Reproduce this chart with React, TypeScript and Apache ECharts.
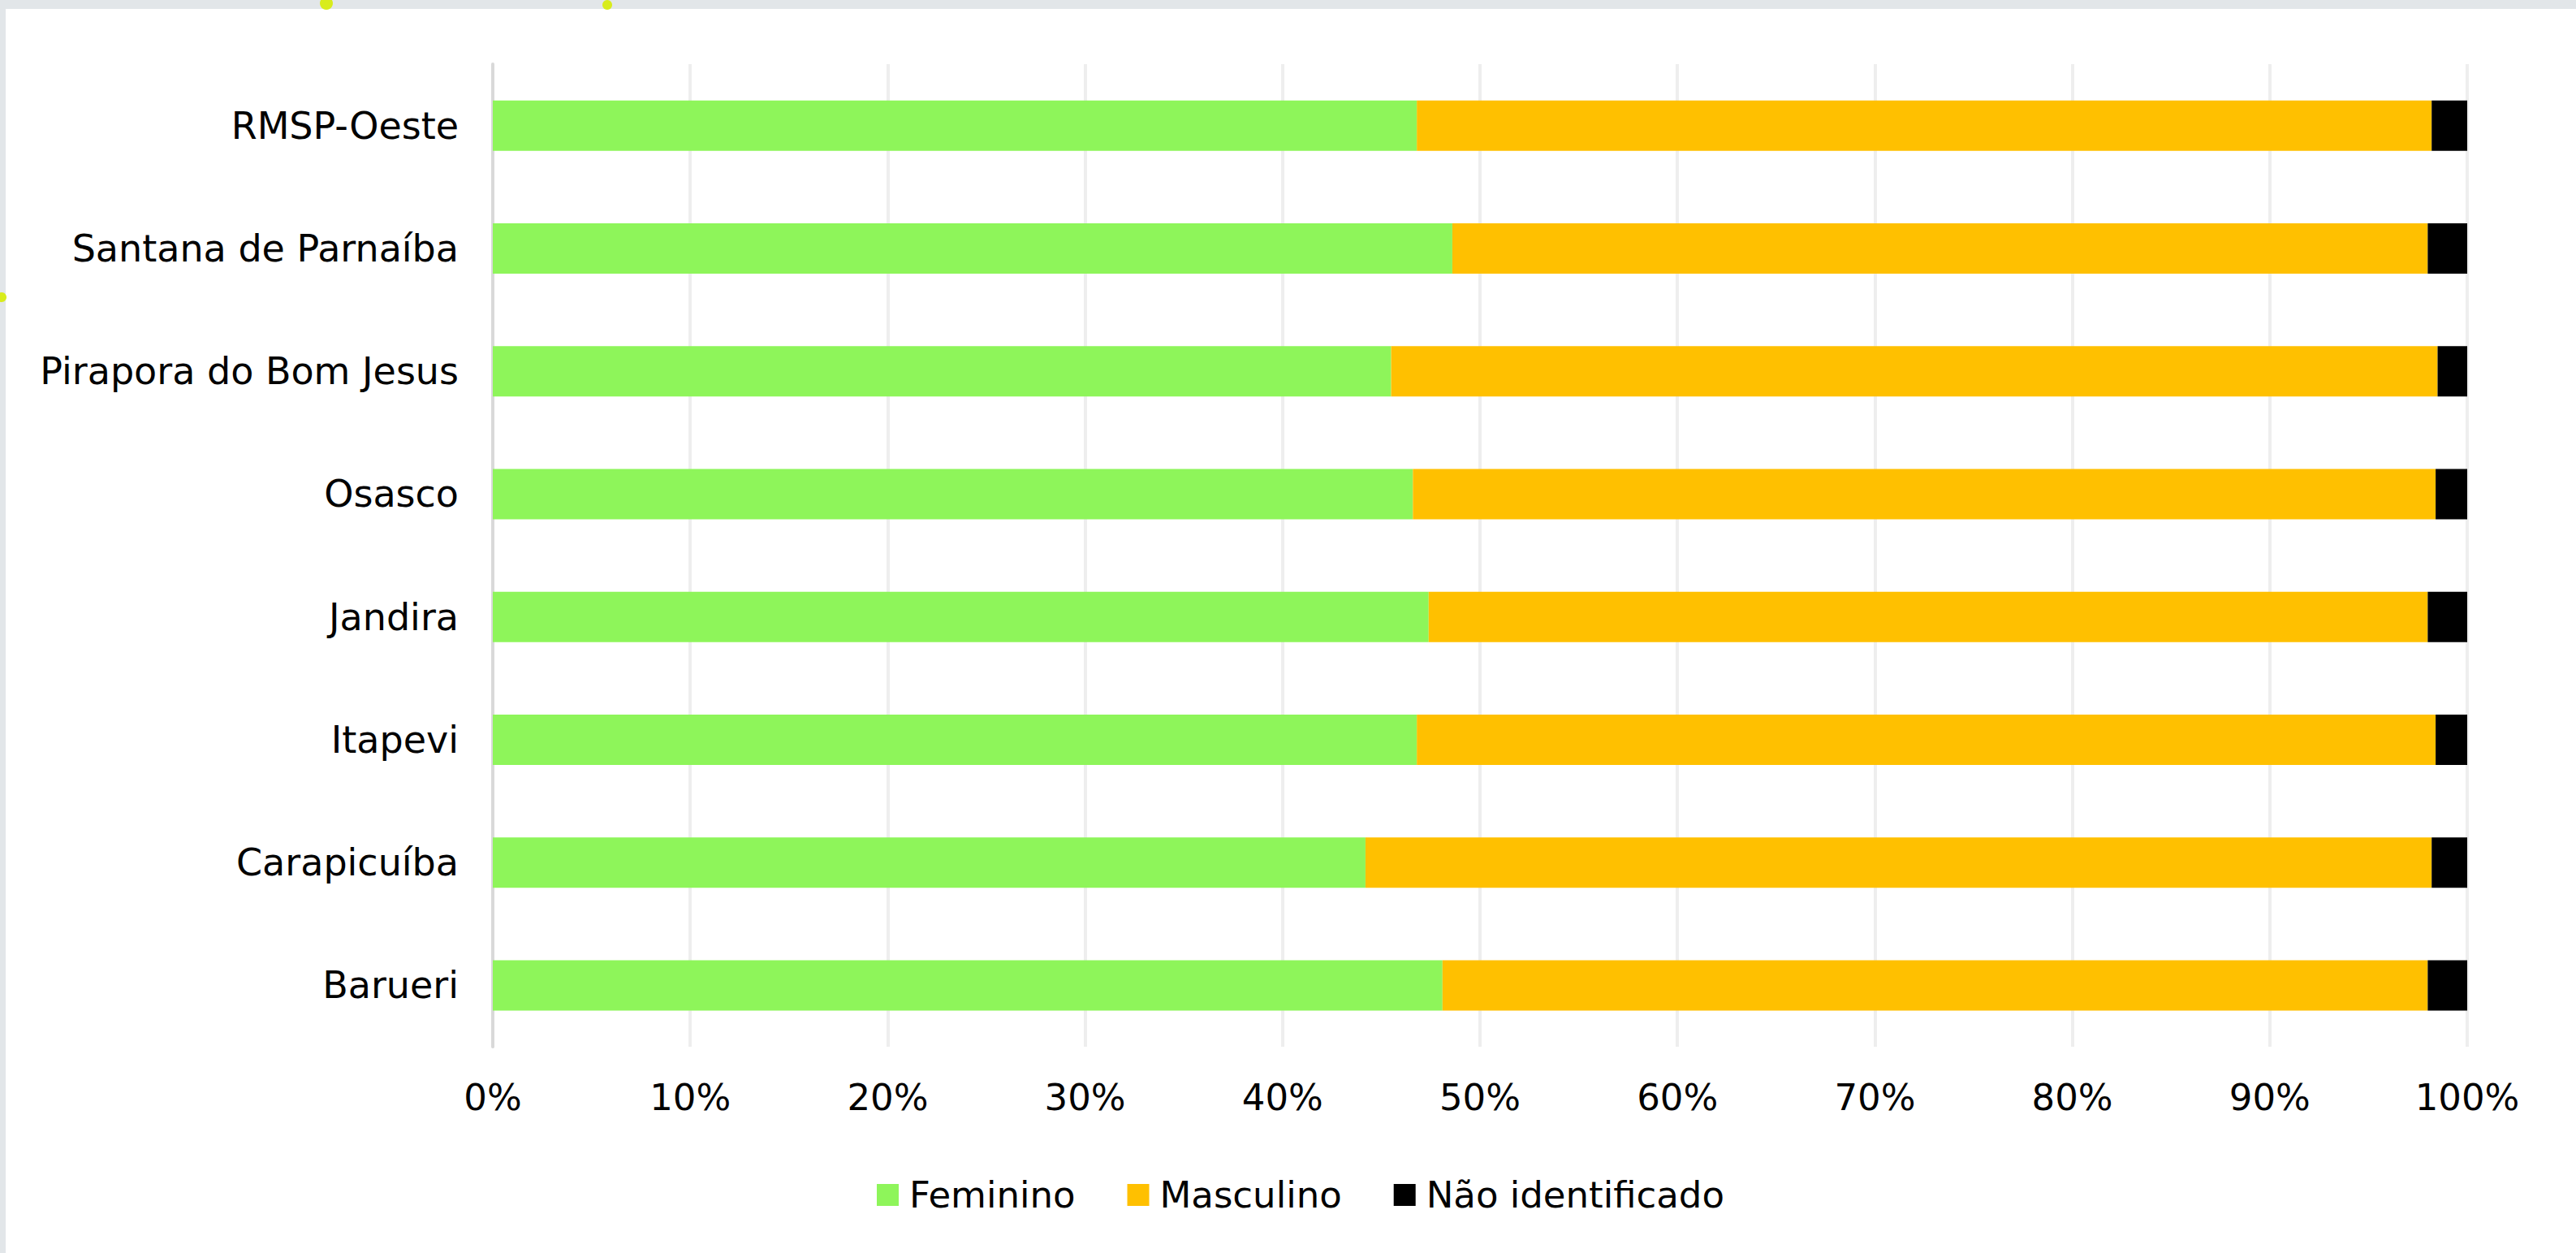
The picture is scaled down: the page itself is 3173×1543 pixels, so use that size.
import React, { useEffect, useRef } from "react";
import * as echarts from "echarts";

const categories = [
  "RMSP-Oeste",
  "Santana de Parnaíba",
  "Pirapora do Bom Jesus",
  "Osasco",
  "Jandira",
  "Itapevi",
  "Carapicuíba",
  "Barueri",
];
const feminino = [46.8, 48.6, 45.5, 46.6, 47.4, 46.8, 44.2, 48.1];
const masculino = [51.4, 49.4, 53.0, 51.8, 50.6, 51.6, 54.0, 49.9];
const naoIdentificado = [1.8, 2.0, 1.5, 1.6, 2.0, 1.6, 1.8, 2.0];
const seriesNames = ["Feminino", "Masculino", "Não identificado"];
const seriesColors = ["#8ef55a", "#ffc000", "#000000"];

const FONT = "'DejaVu Sans', Verdana, sans-serif";

export default function App() {
  const ref = useRef<HTMLDivElement>(null);
  useEffect(() => {
    document.body.style.margin = "0";
    if (!ref.current) return;
    const chart = echarts.init(ref.current, null, { renderer: "svg" });
    const data = [feminino, masculino, naoIdentificado];
    chart.setOption({
      animation: false,
      backgroundColor: "#ffffff",
      textStyle: { fontFamily: FONT },
      grid: { left: 607, right: 134, top: 79, bottom: 254, containLabel: false },
      legend: {
        left: 1075,
        top: 1444,
        itemWidth: 27,
        itemHeight: 27,
        itemGap: 64,
        icon: "rect",
        textStyle: { fontFamily: FONT, fontSize: 45, color: "#000000", padding: [0, 0, 0, 8] },
        data: seriesNames,
      },
      xAxis: {
        type: "value",
        min: 0,
        max: 100,
        interval: 10,
        axisLine: { show: false },
        axisTick: { show: false },
        splitLine: { show: true, lineStyle: { color: "#eeeeee", width: 4 } },
        axisLabel: {
          formatter: "{value}%",
          fontFamily: FONT,
          fontSize: 45,
          color: "#000000",
          margin: 40,
        },
      },
      yAxis: {
        type: "category",
        inverse: true,
        data: categories,
        axisLine: { show: true, lineStyle: { color: "#d9d9d9", width: 4 } },
        axisTick: { show: false },
        axisLabel: {
          fontFamily: FONT,
          fontSize: 46,
          color: "#000000",
          margin: 42,
        },
      },
      series: seriesNames.map((name, i) => ({
        name,
        type: "bar",
        stack: "total",
        barWidth: 62,
        itemStyle: { color: seriesColors[i] },
        data: data[i],
      })),
      graphic: [
        { type: "rect", shape: { x: 0, y: 0, width: 3173, height: 11 }, style: { fill: "#e2e6e9" }, silent: true },
        { type: "rect", shape: { x: 0, y: 0, width: 7, height: 1543 }, style: { fill: "#e2e6e9" }, silent: true },
        { type: "circle", shape: { cx: 402, cy: 4, r: 8 }, style: { fill: "#d8ec1c" }, silent: true },
        { type: "circle", shape: { cx: 748, cy: 6, r: 6 }, style: { fill: "#d8ec1c" }, silent: true },
        { type: "circle", shape: { cx: 2, cy: 366, r: 6 }, style: { fill: "#d8ec1c" }, silent: true },
      ],
    });
    return () => chart.dispose();
  }, []);
  return <div ref={ref} style={{ width: 3173, height: 1543 }} />;
}
